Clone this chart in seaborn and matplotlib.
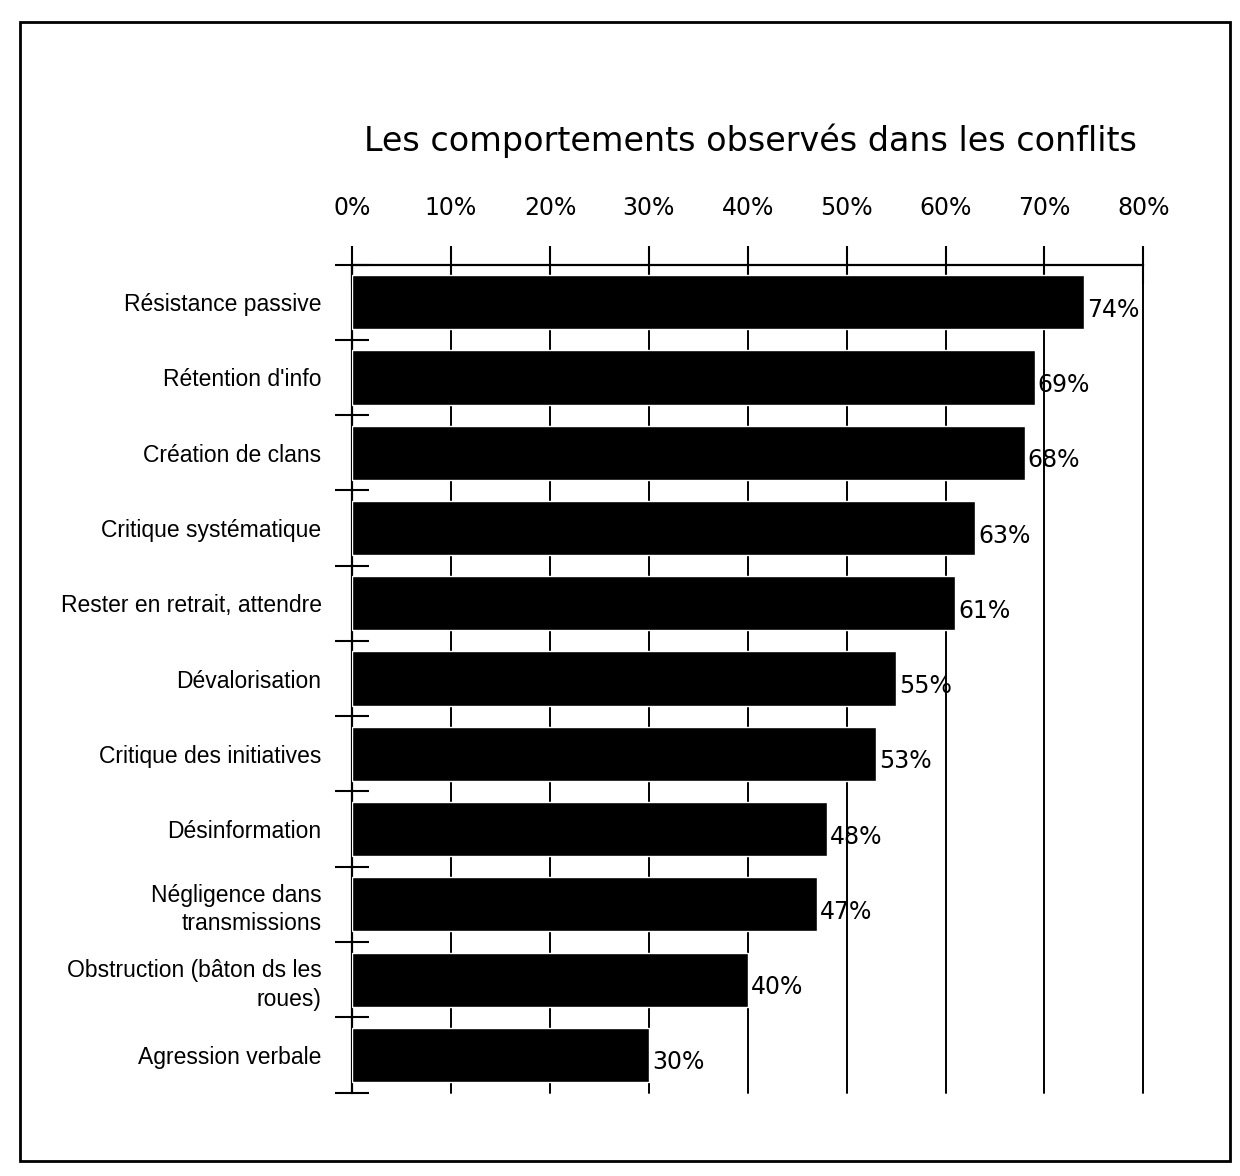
import matplotlib
matplotlib.use('Agg')
import matplotlib.pyplot as plt
import numpy as np
import pandas as pd
import seaborn as sns
from matplotlib.patches import Rectangle
from matplotlib import font_manager as fm

categories = ['Résistance passive', "Rétention d'info", 'Création de clans',
              'Critique systématique', 'Rester en retrait, attendre',
              'Dévalorisation', 'Critique des initiatives', 'Désinformation',
              'Négligence dans\ntransmissions', 'Obstruction (bâton ds les\nroues)',
              'Agression verbale']
values = [74, 69, 68, 63, 61, 55, 53, 48, 47, 40, 30]
xticks = [0, 10, 20, 30, 40, 50, 60, 70, 80]

df = pd.DataFrame({'cat': categories, 'val': values})

# Helvetica-like font for the category labels
lib_files = [f for f in fm.findSystemFonts() if 'LiberationSans-Regular' in f]
if lib_files:
    cat_font = fm.FontProperties(fname=lib_files[0], size=16.5)
else:
    cat_font = fm.FontProperties(family='DejaVu Sans', size=15)

sns.set_style('white')
plt.rcParams['font.family'] = ['DejaVu Sans']
plt.rcParams['text.color'] = 'black'
plt.rcParams['xtick.color'] = 'black'
plt.rcParams['ytick.color'] = 'black'

fig = plt.figure(figsize=(12.4, 11.76), dpi=100)
fig.patches.append(Rectangle((0.016, 0.013), 0.976, 0.968, transform=fig.transFigure,
                             fill=False, edgecolor='black', linewidth=2))

ax = fig.add_axes([0.284, 0.071, 0.638, 0.704])
sns.barplot(data=df, x='val', y='cat', orient='h', color='black', width=0.72,
            saturation=1, ax=ax, zorder=3)

ax.set_xlim(0, 80)
ax.set_ylim(10.5, -0.5)
ax.set_xticks(xticks)
ax.set_xticklabels([f'{t}%' for t in xticks], fontsize=17)
ax.xaxis.tick_top()
ax.tick_params(axis='x', top=True, direction='inout', length=28, width=1.5, pad=18)
for t in xticks[1:]:
    ax.axvline(t, color='black', linewidth=1.4, zorder=1, clip_on=False)

ax.set_yticks(range(len(categories)))
ax.set_yticklabels(categories, fontproperties=cat_font, linespacing=1.3)
ax.tick_params(axis='y', which='major', left=False, length=0, pad=22)
ax.set_yticks(np.arange(-0.5, len(categories), 1.0), minor=True)
ax.tick_params(axis='y', which='minor', left=True, direction='inout', length=24, width=1.5)

ax.set_xlabel('')
ax.set_ylabel('')
for side in ['right', 'bottom']:
    ax.spines[side].set_visible(False)
for side in ['left', 'top']:
    ax.spines[side].set_linewidth(1.6)
    ax.spines[side].set_color('black')

for i, v in enumerate(values):
    ax.text(v + 0.3, i + 0.1, f'{v}%', va='center', ha='left', fontsize=17, zorder=4)

fig.text(0.605, 0.88, 'Les comportements observés dans les conflits', ha='center',
         va='center', fontsize=24, weight='medium')

fig.savefig('out.png', dpi=100, facecolor='white')
